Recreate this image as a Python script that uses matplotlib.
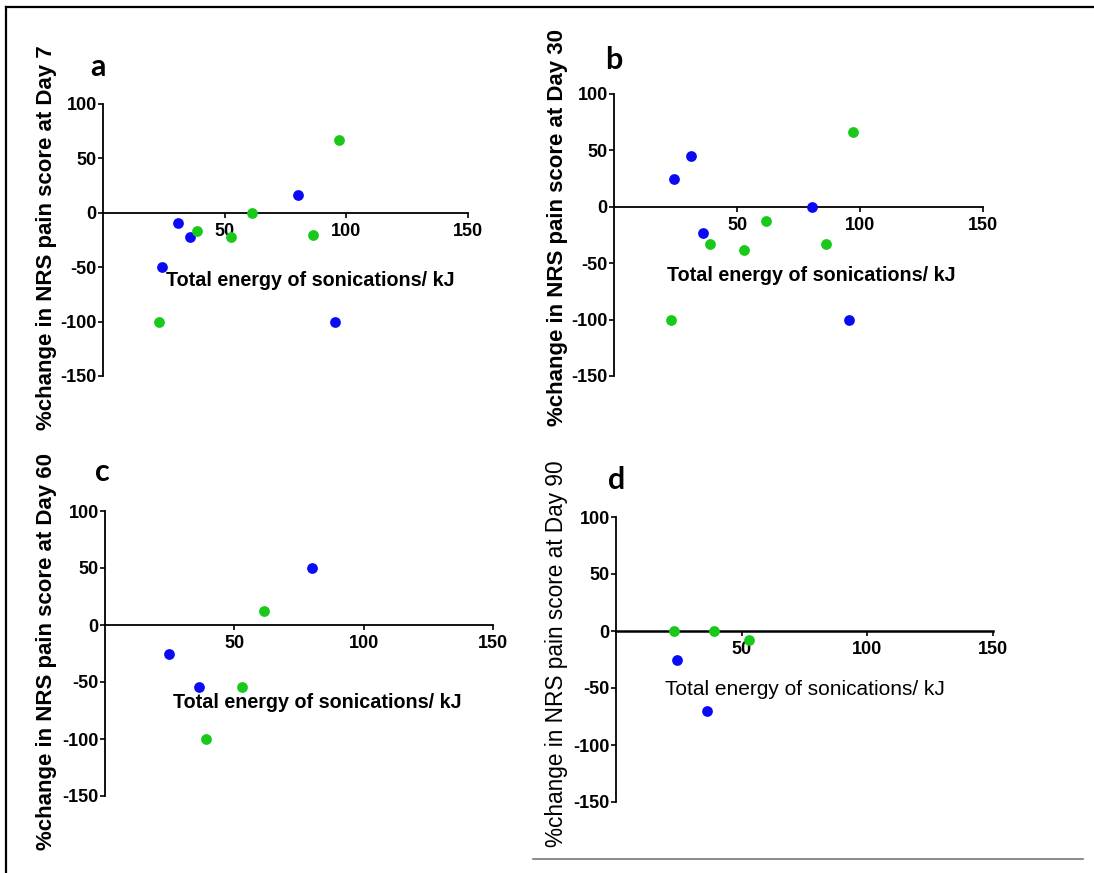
import matplotlib
matplotlib.use("Agg")
import matplotlib.pyplot as plt
from matplotlib.lines import Line2D

plt.rcParams["axes.unicode_minus"] = False

# values (x: total energy kJ, y: % change in NRS)
a_blue_x = [24.1, 31.0, 35.8, 80.1, 95.4]
a_blue_y = [-50, -9, -22, 16.7, -100]
a_green_x = [23.0, 38.5, 52.4, 61.4, 86.1, 97.0]
a_green_y = [-100, -16.7, -22, 0, -20, 66.7]

b_blue_x = [24.4, 31.1, 36.2, 80.4, 95.6]
b_blue_y = [25, 45, -23, 0, -100]
b_green_x = [23.3, 39.0, 52.8, 61.6, 86.3, 97.1]
b_green_y = [-100, -33.3, -38, -12.5, -33.3, 66.7]

c_blue_x = [24.6, 36.3, 80.2]
c_blue_y = [-25, -54, 50]
c_green_x = [38.9, 52.8, 61.5]
c_green_y = [-100, -54, 12.3]

d_blue_x = [24.4, 36.4]
d_blue_y = [-25.5, -70]
d_green_x = [23.2, 38.9, 52.9]
d_green_y = [0, 0, -8]

panel_letters = ["a", "b", "c", "d"]
day_labels = ["7", "30", "60", "90"]
y_ticks = [-150, -100, -50, 0, 50, 100]
x_ticks = [50, 100, 150]

BLUE = "#0a0af5"
GREEN = "#19c819"
W, H = 1094, 873

fig = plt.figure(figsize=(W / 100, H / 100), dpi=100)


def px(x, y):
    # pixel position (from top-left) to figure fraction
    return x / W, 1 - y / H


panels = [
    # left, top, right, bottom (pixels), data, xlabel pos, ylabel pos, letter pos, bold
    ((103, 104, 468, 376), (a_blue_x, a_blue_y, a_green_x, a_green_y), (85, -62), (47, 238), (98, 67), True),
    ((614, 94, 983, 376), (b_blue_x, b_blue_y, b_green_x, b_green_y), (80, -61), (558, 228), (614, 60), True),
    ((105, 511, 493, 796), (c_blue_x, c_blue_y, c_green_x, c_green_y), (82, -68), (47, 651), (102, 472), True),
    ((616, 517, 993, 802), (d_blue_x, d_blue_y, d_green_x, d_green_y), (75, -51), (557, 654), (617, 480), False),
]

for i, (box, data, xl, yl, lt, bold) in enumerate(panels):
    l, t, r, b = box
    x0, y0 = px(l, b)
    x1, y1 = px(r, t)
    ax = fig.add_axes([x0, y0, x1 - x0, y1 - y0])
    bx, by, gx, gy = data
    ax.scatter(bx, by, s=60, color=BLUE, linewidths=0, zorder=3, clip_on=False)
    ax.scatter(gx, gy, s=60, color=GREEN, linewidths=0, zorder=3, clip_on=False)

    ax.set_xlim(0, 150)
    ax.set_ylim(-150, 100)
    for side in ("top", "right"):
        ax.spines[side].set_visible(False)
    ax.spines["bottom"].set_position(("data", 0))
    ax.spines["left"].set_linewidth(1.3)
    ax.spines["bottom"].set_linewidth(1.3 if bold else 1.8)
    ax.set_xticks(x_ticks)
    ax.set_yticks(y_ticks)
    ax.tick_params(direction="out", length=3.5, width=1.2, labelsize=13, pad=1)
    ax.tick_params(axis="x", pad=4)
    for lab in ax.get_xticklabels() + ax.get_yticklabels():
        lab.set_fontfamily("Liberation Sans")
        lab.set_fontweight("bold")

    weight = "bold" if bold else "normal"
    ax.text(xl[0], xl[1], "Total energy of sonications/ kJ", ha="center", va="center",
            fontsize=14.2 if bold else 15, fontweight=weight, family="Liberation Sans")
    fx, fy = px(*yl)
    fig.text(fx, fy, f"%change in NRS pain score at Day {day_labels[i]}", rotation=90,
             ha="center", va="center", fontsize=16 if bold else 16.3, fontweight=weight,
             family="Liberation Sans")
    fx, fy = px(*lt)
    fig.text(fx, fy, panel_letters[i], ha="center", va="center", fontsize=22,
             fontweight="bold", family="Lato")

# outer frame lines (top and left) and the short rule at bottom right
fig.add_artist(Line2D([6 / W, 1], [1 - 7 / H, 1 - 7 / H], color="black", lw=1.6))
fig.add_artist(Line2D([6 / W, 6 / W], [0, 1 - 7 / H], color="black", lw=1.6))
fig.add_artist(Line2D([533 / W, 1083 / W], [1 - 859 / H, 1 - 859 / H], color="#777777", lw=1.2))

fig.savefig("out.png", dpi=100)
